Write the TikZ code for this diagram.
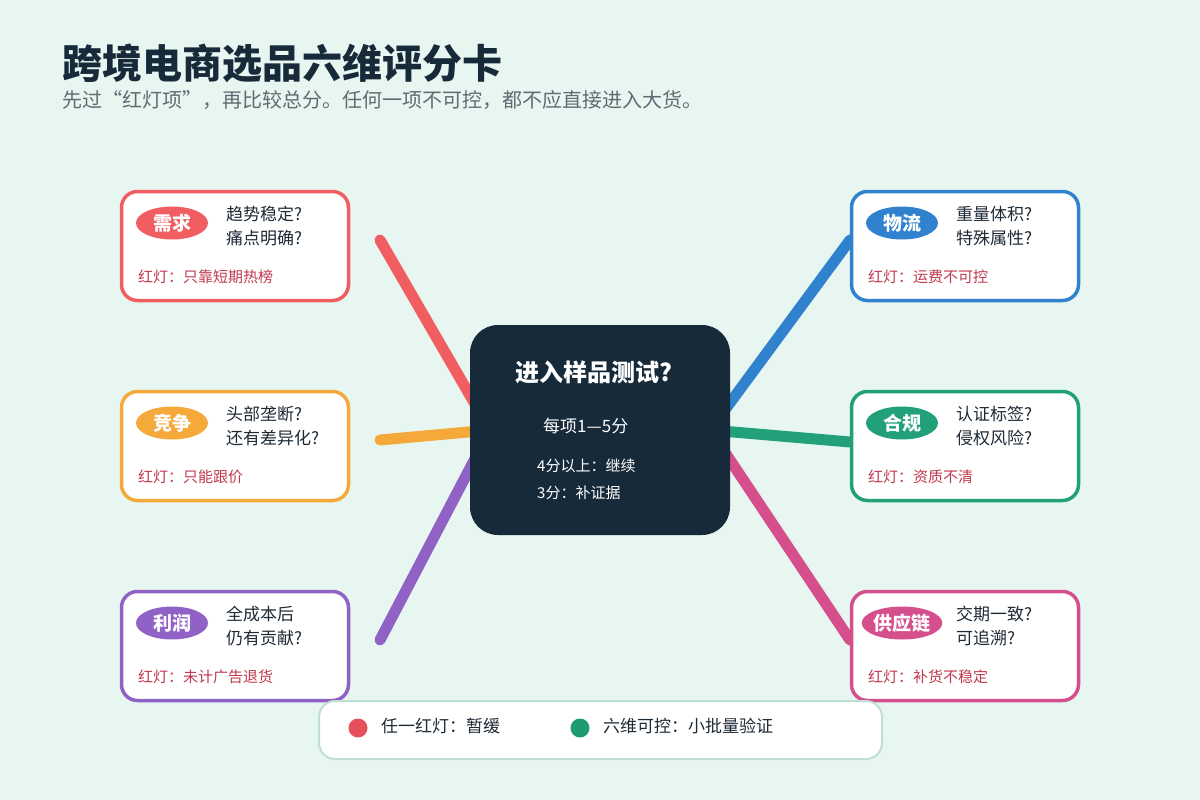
\documentclass[tikz,border=0pt]{standalone}
\usepackage{fontspec}
\setmainfont{Noto Sans CJK SC}
\usetikzlibrary{shapes.geometric}
\definecolor{bg}{HTML}{E8F6F1}
\definecolor{navy}{HTML}{172A3A}
\definecolor{subcol}{HTML}{5F6B72}
\definecolor{qcol}{HTML}{1E2A36}
\definecolor{flagcol}{HTML}{C0394F}
\definecolor{cRed}{HTML}{F05E62}
\definecolor{cOrange}{HTML}{F4A93A}
\definecolor{cPurple}{HTML}{9062C6}
\definecolor{cBlue}{HTML}{3182CE}
\definecolor{cGreen}{HTML}{21A07A}
\definecolor{cPink}{HTML}{D44F8C}
\definecolor{legborder}{HTML}{BFDFD3}
\definecolor{dotRed}{HTML}{E5505C}
\definecolor{dotGreen}{HTML}{1F9A73}
\newcommand{\pillfont}{\bfseries\fontsize{19pt}{21pt}\selectfont}
\newcommand{\qfont}{\fontsize{17pt}{24pt}\selectfont}
\newcommand{\flagfont}{\fontsize{15pt}{17pt}\selectfont}
\newcommand{\mkcard}[7]{%
  \node[card=#2] (card#1) at (#3,#4) {};
  \node[pill=#2] (pill#1) at (#3-63,#4-23) {#5};
  \node[qtext] (q#1) at (#3-9,#4-20) {#6};
  \node[flag] (flag#1) at (#3-97,#4+31) {#7};
}
\begin{document}
\begin{tikzpicture}[x=1pt,y=-1pt,
  card/.style={draw=#1, line width=3.5pt, rounded corners=16pt, fill=white, minimum width=227pt, minimum height=109pt, inner sep=0pt},
  pill/.style={ellipse, fill=#1, minimum width=72pt, minimum height=33pt, inner sep=0pt, text=white, font=\pillfont},
  qtext/.style={anchor=west, align=left, text=qcol, font=\qfont, inner sep=0pt},
  flag/.style={anchor=west, text=flagcol, font=\flagfont, inner sep=0pt},
  spoke/.style={draw=#1, line width=11pt, line cap=round},
  hubbox/.style={fill=navy, rounded corners=28pt, minimum width=260pt, minimum height=210pt, inner sep=0pt},
  legend/.style={draw=legborder, line width=2pt, fill=white, rounded corners=16pt, minimum width=563pt, minimum height=58pt, inner sep=0pt},
  ldot/.style={circle, fill=#1, minimum size=19pt, inner sep=0pt},
  ltext/.style={anchor=west, text=qcol, font=\qfont, inner sep=0pt},
]
\fill[bg] (0,0) rectangle (1200,800);
\useasboundingbox (0,0) rectangle (1200,800);

% title
\node[anchor=base west, inner sep=0pt, text=navy, font=\bfseries\fontsize{40pt}{44pt}\selectfont] (title) at (62,79) {跨境电商选品六维评分卡};
\node[anchor=base west, inner sep=0pt, text=subcol, font=\fontsize{20pt}{22pt}\selectfont] (subtitle) at (62,107) {先过“红灯项”，再比较总分。任何一项不可控，都不应直接进入大货。};

% spoke coordinates
\coordinate (hubL) at (490,430);
\coordinate (hubR) at (710,430);
\coordinate (sD) at (380,240);
\coordinate (sC) at (380,440);
\coordinate (sP) at (380,640);
\coordinate (sL) at (850,240);
\coordinate (sG) at (850,442);
\coordinate (sS) at (850,640);
\draw[spoke=cRed] (sD) -- (hubL);
\draw[spoke=cOrange] (sC) -- (hubL);
\draw[spoke=cPurple] (sP) -- (hubL);
\draw[spoke=cBlue] (hubR) -- (sL);
\draw[spoke=cGreen] (hubR) -- (sG);
\draw[spoke=cPink] (hubR) -- (sS);

% hub
\node[hubbox] (hub) at (600,430) {};
\node[text=white, inner sep=0pt, font=\bfseries\fontsize{24pt}{26pt}\selectfont] (hubtitle) at (593.5,372) {进入样品测试?};
\node[anchor=west, text=white, inner sep=0pt, font=\fontsize{17pt}{19pt}\selectfont] (hubscale) at (543,426) {每项1—5分};
\node[anchor=west, text=white, inner sep=0pt, font=\fontsize{15pt}{17pt}\selectfont] (hubA) at (537,466) {4分以上：继续};
\node[anchor=west, text=white, inner sep=0pt, font=\fontsize{15pt}{17pt}\selectfont] (hubB) at (537,493) {3分：补证据};

% cards
\mkcard{D}{cRed}{235}{246}{需求}{趋势稳定?\\痛点明确?}{红灯：只靠短期热榜}
\mkcard{C}{cOrange}{235}{446}{竞争}{头部垄断?\\还有差异化?}{红灯：只能跟价}
\mkcard{P}{cPurple}{235}{646}{利润}{全成本后\\仍有贡献?}{红灯：未计广告退货}
\mkcard{L}{cBlue}{965}{246}{物流}{重量体积?\\特殊属性?}{红灯：运费不可控}
\mkcard{G}{cGreen}{965}{446}{合规}{认证标签?\\侵权风险?}{红灯：资质不清}
\mkcard{S}{cPink}{965}{646}{供应链}{交期一致?\\可追溯?}{红灯：补货不稳定}

% legend
\node[legend] (legendbox) at (600.5,730) {};
\node[ldot=dotRed] (dotR) at (358,728) {};
\node[ltext] (legR) at (381,726) {任一红灯：暂缓};
\node[ldot=dotGreen] (dotG) at (580,728) {};
\node[ltext] (legG) at (603,726) {六维可控：小批量验证};
\end{tikzpicture}
\end{document}
